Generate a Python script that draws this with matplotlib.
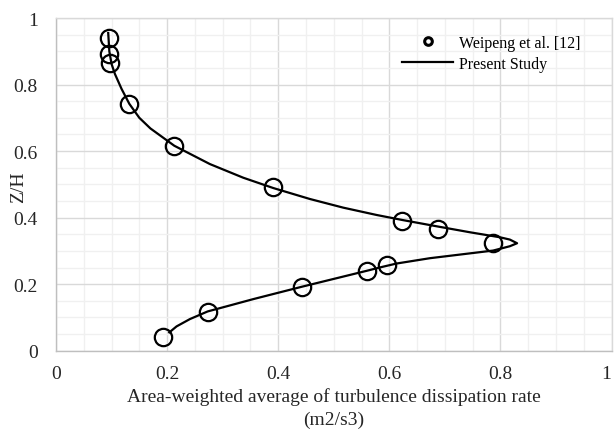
import matplotlib
matplotlib.use("Agg")
import matplotlib.pyplot as plt
from matplotlib.lines import Line2D
from matplotlib.ticker import MultipleLocator

# Experimental data (Weipeng et al. [12])
exp_x = [0.095, 0.096, 0.097, 0.132, 0.213, 0.391, 0.623, 0.687, 0.786,
         0.595, 0.559, 0.442, 0.273, 0.192]
exp_y = [0.939, 0.892, 0.864, 0.741, 0.616, 0.491, 0.391, 0.366, 0.323,
         0.259, 0.239, 0.191, 0.115, 0.042]

# Present study (simulation profile)
sim_x = [0.094, 0.096, 0.100, 0.106, 0.118, 0.132, 0.150, 0.170, 0.213,
         0.277, 0.337, 0.391, 0.457, 0.517, 0.577, 0.623, 0.685, 0.745,
         0.799, 0.817, 0.830, 0.817, 0.787, 0.673, 0.613, 0.585, 0.559,
         0.442, 0.355, 0.313, 0.273, 0.241, 0.217, 0.204]
sim_y = [0.955, 0.900, 0.862, 0.832, 0.787, 0.742, 0.700, 0.668, 0.616,
         0.561, 0.520, 0.489, 0.456, 0.430, 0.408, 0.393, 0.374, 0.356,
         0.341, 0.334, 0.323, 0.314, 0.301, 0.278, 0.262, 0.251, 0.240,
         0.192, 0.155, 0.136, 0.118, 0.095, 0.073, 0.055]

x_ticks = [0, 0.2, 0.4, 0.6, 0.8, 1]
x_tick_labels = ["0", "0.2", "0.4", "0.6", "0.8", "1"]
y_ticks = [0, 0.2, 0.4, 0.6, 0.8, 1]
y_tick_labels = ["0", "0.2", "0.4", "0.6", "0.8", "1"]

serif = ["Liberation Serif", "DejaVu Serif"]
plt.rcParams["font.family"] = serif

fig = plt.figure(figsize=(6.14, 4.39), dpi=100)
ax = fig.add_axes([56 / 614, 1 - 351.7 / 439, 555.5 / 614, 332.7 / 439])

ax.set_xlim(0, 1)
ax.set_ylim(0, 1)
ax.set_xticks(x_ticks)
ax.set_xticklabels(x_tick_labels)
ax.set_yticks(y_ticks)
ax.set_yticklabels(y_tick_labels)
ax.get_xticklabels()[-1].set_horizontalalignment("right")
ax.xaxis.set_minor_locator(MultipleLocator(0.05))
ax.yaxis.set_minor_locator(MultipleLocator(0.05))
ax.grid(which="minor", color="#f0f0f0", linewidth=1.0, zorder=0)
ax.grid(which="major", color="#d9d9d9", linewidth=1.0, zorder=0)
ax.set_axisbelow(True)
ax.tick_params(which="both", length=0, labelsize=14, colors="#262626")
ax.tick_params(axis="x", pad=10)
ax.tick_params(axis="y", pad=13)
for side, sp in ax.spines.items():
    sp.set_color("#bfbfbf" if side in ("left", "bottom") else "#d9d9d9")
    sp.set_linewidth(1.0)

ax.plot(sim_x, sim_y, color="black", linewidth=1.6, zorder=3,
        solid_joinstyle="round")
ax.plot(exp_x, exp_y, linestyle="none", marker="o", markersize=12.5,
        markerfacecolor="none", markeredgecolor="black",
        markeredgewidth=1.6, zorder=4)

ax.set_ylabel("Z/H", fontsize=14, color="#262626")
ax.yaxis.set_label_coords(-0.052, 0.495)
ax.set_xlabel("Area-weighted average of turbulence dissipation rate\n(m2/s3)",
              fontsize=14, color="#262626", linespacing=1.45)
ax.xaxis.set_label_coords(0.5, -0.108)

handles = [
    Line2D([], [], linestyle="none", marker="o", markersize=5.5,
           markerfacecolor="none", markeredgecolor="black",
           markeredgewidth=2.2),
    Line2D([], [], color="black", linewidth=1.6),
]
labels = ["Weipeng et al. [12]", "Present Study"]
ax.legend(handles, labels, loc="upper left",
          bbox_to_anchor=(402 / 614, 1 - 35.5 / 439),
          bbox_transform=fig.transFigure, frameon=False, fontsize=11.5,
          handlelength=3.2, handletextpad=0.37, labelspacing=0.33,
          borderpad=0, borderaxespad=0)

fig.savefig("out.png", dpi=100)
